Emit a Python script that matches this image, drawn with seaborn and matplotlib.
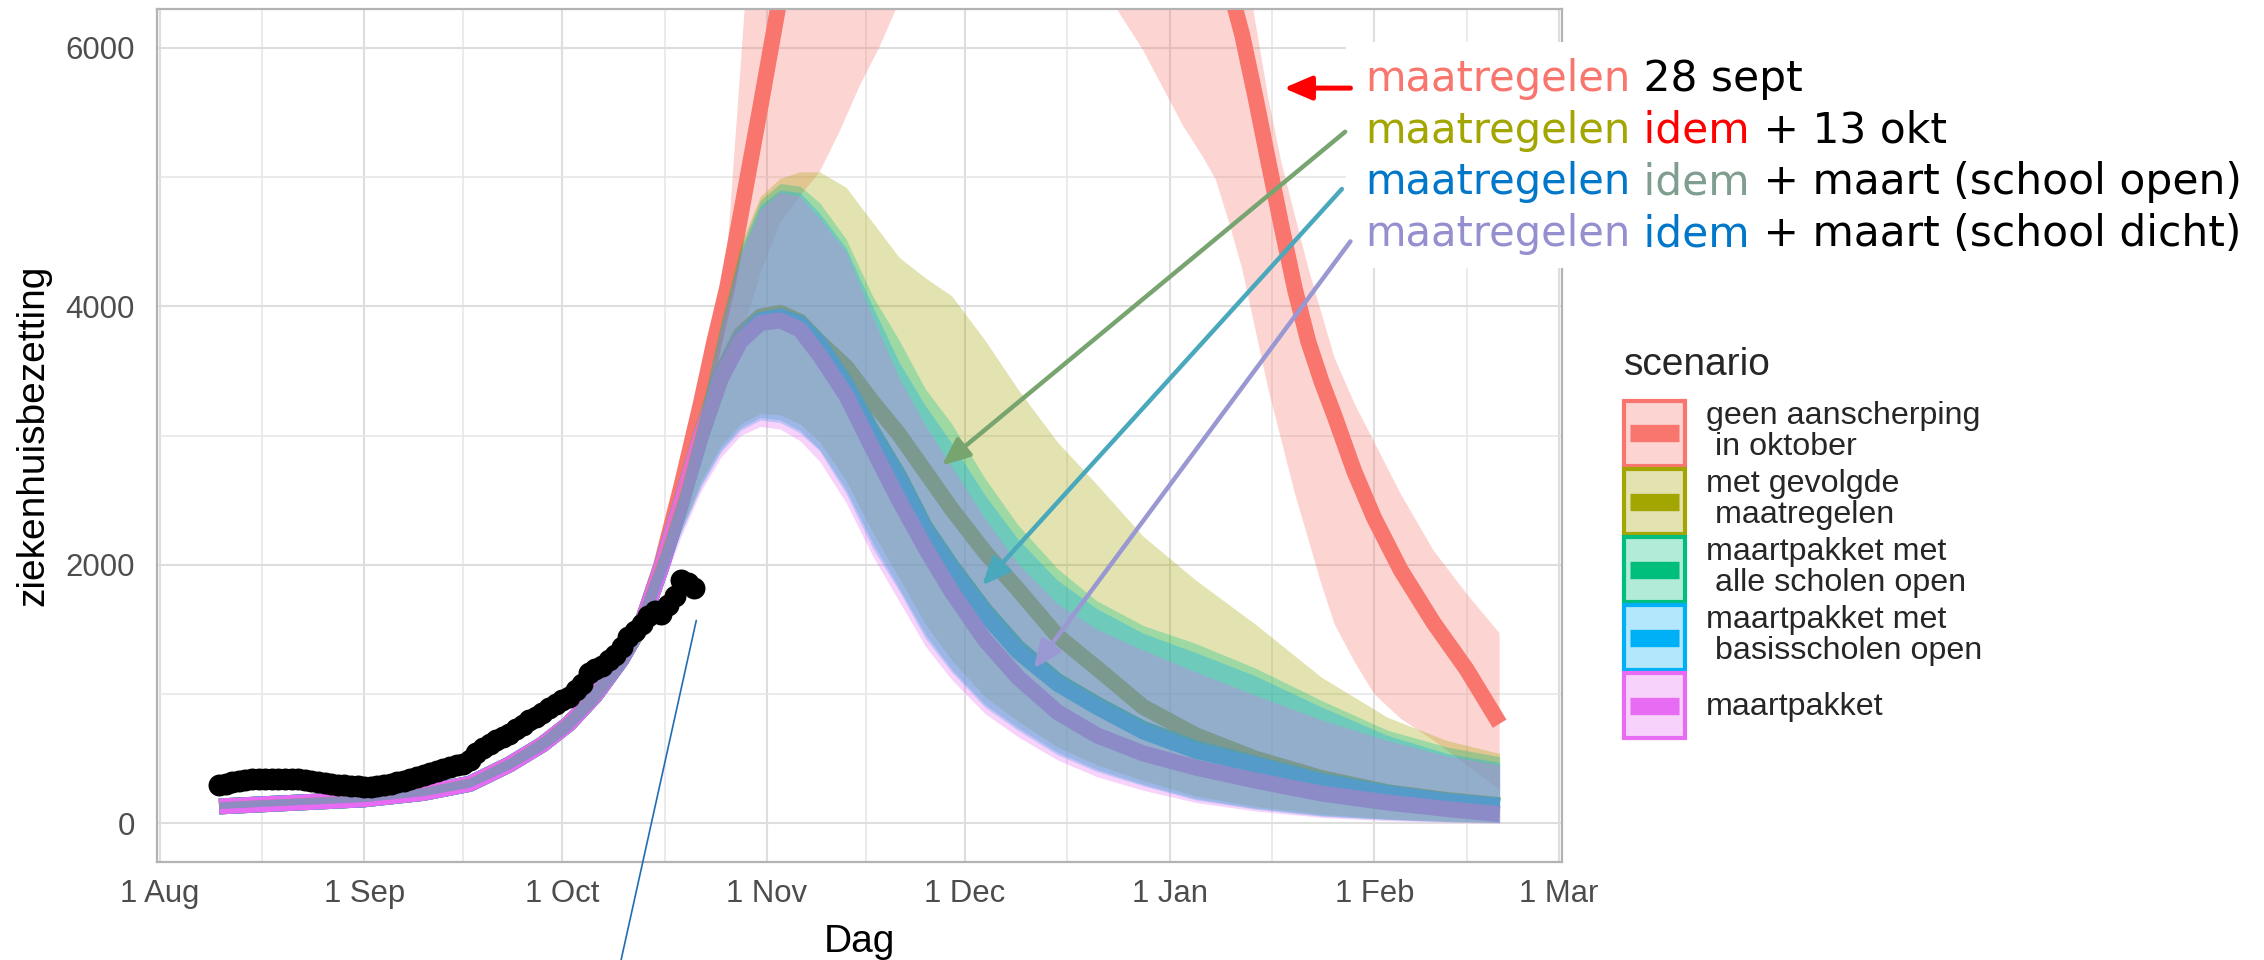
import numpy as np
import pandas as pd
import seaborn as sns
import matplotlib.pyplot as plt
import matplotlib.dates as mdates
from matplotlib.colors import to_rgba
from matplotlib.patches import Rectangle
from matplotlib.lines import Line2D
from matplotlib.legend_handler import HandlerBase

sns.set_theme(style="white")
plt.rcParams["font.family"] = ["Liberation Sans", "DejaVu Sans"]

start = pd.Timestamp("2020-08-01")

scenarios = ["geen aanscherping\n in oktober", "met gevolgde\n maatregelen",
             "maartpakket met\n alle scholen open", "maartpakket met\n basisscholen open",
             "maartpakket"]
colors = ["#F8766D", "#A3A500", "#00BF7D", "#00B0F6", "#E76BF3"]

# days since 1 Aug 2020
model_days = [9, 19, 31, 40, 47, 53, 58, 62, 66, 70, 73, 76, 79, 82, 85, 88, 91, 94, 97, 100,
              104, 108, 112, 116, 120, 125, 130, 136, 142, 149, 157, 166, 176, 186, 195, 203]
red_days = [9, 19, 31, 40, 47, 53, 58, 62, 66, 70, 73, 76, 79, 82, 84, 86, 88, 91, 94, 97,
            100, 103, 106, 109, 112, 120, 130, 140, 145, 149, 152, 155, 158, 160, 162, 164, 166, 168, 170, 172,
            174, 176, 178, 181, 184, 188, 193, 198, 203]

early_line = [130, 155, 185, 235, 305, 455, 610, 770, 990, 1270, 1540]
early_lo = [115, 140, 168, 215, 280, 420, 565, 715, 920, 1180, 1420]
early_hi = [165, 190, 220, 275, 350, 505, 670, 840, 1080, 1380, 1690]

red_line = early_line + [2000, 2600, 3250, 3720, 4150, 4700, 5540, 6400, 7200,
                         8000, 8700, 9300, 9800, 10200, 11000, 11200, 10400, 9700, 9000,
                         8450, 7900, 7250, 6850, 6480, 6100, 5620, 5110, 4610, 4130,
                         3730, 3420, 3150, 2720, 2360, 1960, 1550, 1190, 770]
red_lo = early_lo + [1850, 2300, 2800, 3100, 3400, 3750, 4250, 4650, 4850,
                     5040, 5350, 5700, 6000, 6350, 7000, 7300, 6800, 6300, 5980,
                     5690, 5400, 5160, 4980, 4650, 4290, 3820, 3350, 2950, 2550,
                     2200, 1850, 1540, 1250, 1000, 810, 640, 450, 257]
red_hi = early_hi + [2150, 2700, 3400, 3800, 4430, 5850, 8000, 10000, 11500,
                     12500, 13000, 13300, 13500, 13600, 13500, 13000, 12000, 11200, 10500,
                     10000, 9400, 8700, 8200, 7500, 6800, 6200, 5600, 5100, 4700,
                     4300, 3950, 3600, 3250, 2950, 2550, 2110, 1776, 1470]

olive_line = early_line + [1980, 2480, 3010, 3470, 3780, 3920, 3950, 3880, 3720, 3530, 3260, 3010, 2720,
                           2430, 2100, 1810, 1450, 1200, 900, 680, 500, 350, 240, 180, 140]
olive_lo = early_lo + [1870, 2280, 2650, 2920, 3090, 3170, 3160, 3090, 2950, 2650, 2250, 1900, 1540,
                       1260, 980, 790, 590, 450, 330, 210, 130, 70, 35, 16, 8]
olive_hi = early_hi + [2110, 2600, 3190, 3880, 4480, 4850, 4990, 5040, 5040, 4920, 4650, 4380, 4220,
                       4080, 3740, 3360, 2950, 2620, 2220, 1880, 1540, 1130, 820, 640, 540]

green_line = early_line + [1980, 2480, 3000, 3450, 3750, 3890, 3920, 3870, 3710, 3400, 3030, 2690, 2290,
                           1990, 1650, 1360, 1100, 920, 730, 580, 460, 330, 235, 172, 135]
green_lo = early_lo + [1860, 2260, 2620, 2890, 3060, 3140, 3120, 3040, 2890, 2580, 2170, 1820, 1460,
                       1190, 920, 740, 550, 415, 300, 190, 115, 60, 30, 14, 6]
green_hi = early_hi + [2100, 2580, 3170, 3860, 4450, 4820, 4950, 4930, 4800, 4520, 4080, 3740, 3360,
                       3090, 2670, 2310, 1970, 1720, 1530, 1390, 1200, 950, 720, 590, 515]

blue_line = early_line + [1980, 2480, 3000, 3450, 3750, 3890, 3920, 3860, 3700, 3380, 3000, 2660, 2260,
                          1960, 1620, 1330, 1080, 900, 710, 560, 450, 320, 230, 170, 133]
blue_lo = early_lo + [1850, 2250, 2600, 2870, 3040, 3120, 3100, 3020, 2880, 2550, 2130, 1800, 1430,
                      1170, 900, 720, 530, 400, 290, 180, 110, 55, 28, 12, 5]
blue_hi = early_hi + [2090, 2570, 3160, 3840, 4420, 4780, 4900, 4880, 4720, 4450, 4000, 3570, 3230,
                      2940, 2540, 2200, 1880, 1660, 1470, 1320, 1140, 900, 680, 540, 470]

pink_line = early_line + [1980, 2480, 3000, 3440, 3730, 3870, 3890, 3820, 3620, 3310, 2900, 2500, 2130,
                          1790, 1420, 1130, 860, 680, 540, 430, 330, 230, 160, 110, 70]
pink_lo = early_lo + [1820, 2220, 2570, 2830, 3000, 3070, 3050, 2960, 2800, 2480, 2070, 1720, 1370,
                      1110, 850, 670, 490, 360, 255, 160, 95, 45, 20, 8, 0]
pink_hi = early_hi + [2080, 2560, 3150, 3820, 4400, 4750, 4880, 4850, 4680, 4420, 3920, 3450, 3080,
                      2760, 2360, 2010, 1700, 1500, 1340, 1170, 990, 800, 640, 520, 450]

# observed occupancy, daily from 10 Aug
obs_values = [294, 305, 318, 330, 335, 340, 342, 345, 345, 344, 343, 340, 340, 336, 330, 320, 312, 305,
              298, 294, 290, 285, 281, 283, 288, 294, 305, 318, 330, 345, 360, 375, 390, 405, 420, 436,
              450, 461, 490, 540, 580, 616, 645, 670, 693, 730, 760, 795, 825, 850, 890, 925, 950, 975,
              1030, 1080, 1160, 1190, 1220, 1265, 1305, 1363, 1440, 1490, 1545, 1600, 1640, 1620, 1690,
              1760, 1880, 1860, 1820]


def to_dates(days):
    return start + pd.to_timedelta(days, unit="D")


def dnum(day):
    return mdates.date2num(start + pd.Timedelta(days=day))


series = [
    (scenarios[0], red_days, red_line, red_lo, red_hi),
    (scenarios[1], model_days, olive_line, olive_lo, olive_hi),
    (scenarios[2], model_days, green_line, green_lo, green_hi),
    (scenarios[3], model_days, blue_line, blue_lo, blue_hi),
    (scenarios[4], model_days, pink_line, pink_lo, pink_hi),
]

df = pd.concat([pd.DataFrame({"Dag": to_dates(d), "bezetting": v, "scenario": s})
                for s, d, v, lo, hi in series])
obs = pd.DataFrame({"Dag": pd.date_range("2020-08-10", periods=len(obs_values)),
                    "bezetting": obs_values})

fig = plt.figure(figsize=(22.64, 9.6), dpi=100)
ax = fig.add_axes([0.06935, 0.10208, 0.62058, 0.88854])
ax.set_facecolor("white")
ax.set_axisbelow(True)

# lines first, ribbons on top (as in the original)
sns.lineplot(data=df, x="Dag", y="bezetting", hue="scenario", hue_order=scenarios,
             palette=colors, linewidth=11.5, legend=False, errorbar=None,
             solid_capstyle="butt", ax=ax)

for (s, d, v, lo, hi), c in zip(series, colors):
    ax.fill_between(to_dates(d), lo, hi, color=c, alpha=0.3, linewidth=0, zorder=2.5)

sns.scatterplot(data=obs, x="Dag", y="bezetting", color="black", s=250, linewidth=0,
                zorder=3, legend=False, ax=ax)

# axes
ax.set_xlim(start - pd.Timedelta(days=0.4), pd.Timestamp("2021-03-01") + pd.Timedelta(days=0.45))
ax.set_ylim(-300, 6300)
months = pd.date_range("2020-08-01", "2021-03-01", freq="MS")
ax.set_xticks(months)
ax.xaxis.set_major_formatter(mdates.DateFormatter("%-d %b"))
mids = months[:-1] + (months[1:] - months[:-1]) / 2
ax.set_xticks(mids, minor=True)
ax.set_yticks([0, 2000, 4000, 6000])
ax.set_yticks([1000, 3000, 5000], minor=True)
ax.grid(which="major", color="#DEDEDE", linewidth=1.5)
ax.grid(which="minor", color="#E6E6E6", linewidth=1.1)
ax.tick_params(which="minor", length=0)
ax.tick_params(which="major", length=9, width=1.4, color="#B3B3B3",
               labelsize=22.4, labelcolor="#4D4D4D")
ax.tick_params(axis="x", pad=3)
ax.tick_params(axis="y", pad=7)
for sp in ax.spines.values():
    sp.set_color("#B3B3B3")
    sp.set_linewidth(1.6)
ax.set_xlabel("Dag", fontsize=28, color="black", labelpad=11)
ax.set_ylabel("ziekenhuisbezetting", fontsize=28, color="black", labelpad=10)

# thin pointer line below the observed data
ax.annotate("", xy=(dnum(81.3), 1569), xytext=(dnum(69.9), -1059),
            arrowprops=dict(arrowstyle="-", color="#1F6DB3", lw=1.2, shrinkA=0, shrinkB=0),
            annotation_clip=False, zorder=4)

# white box behind the annotation text
ax.add_patch(Rectangle((1346 / 2264, 1 - 268 / 960), 1 - 1346 / 2264, 226 / 960,
                       transform=fig.transFigure, facecolor="white", edgecolor="none",
                       zorder=5, clip_on=False))


def arrow(tail, tip, color, lw):
    ax.annotate("", xy=(dnum(tip[0]), tip[1]), xytext=(dnum(tail[0]), tail[1]),
                arrowprops=dict(arrowstyle="-|>,head_length=1.4,head_width=0.6", color=color,
                                lw=lw, shrinkA=0, shrinkB=0),
                annotation_clip=False, zorder=6)


arrow((180.4, 5688), (170.3, 5688), "#FF0000", 3.6)
arrow((179.6, 5350), (118.5, 2768), "#78A46F", 3.2)
arrow((179.1, 4907), (124.6, 1840), "#4AA8BC", 3.2)
arrow((180.4, 4502), (132.4, 1196), "#9A98D2", 3.2)

text_lines = [
    [("maatregelen", "#F8766D"), (" 28 sept", "black")],
    [("maatregelen", "#A3A500"), (" idem", "#FF0000"), (" + 13 okt", "black")],
    [("maatregelen", "#0077C8"), (" idem", "#7F9E90"), (" + maart (school open)", "black")],
    [("maatregelen", "#9490D0"), (" idem", "#0077C8"), (" + maart (school dicht)", "black")],
]
for i, parts in enumerate(text_lines):
    y = 1 - (100 + 51.7 * i) / 960
    prev = None
    for txt, col in parts:
        if prev is None:
            prev = ax.text(1365 / 2264, y, txt, color=col, fontsize=30, family="DejaVu Sans",
                           transform=fig.transFigure, va="bottom", ha="left", zorder=7, clip_on=False)
        else:
            prev = ax.annotate(txt, xy=(1, 0), xycoords=prev, color=col, fontsize=30.5,
                               family="DejaVu Sans", va="bottom", ha="left", zorder=7)


class RibbonKey(HandlerBase):
    # legend key: translucent box with coloured border and a thick line across the middle
    def create_artists(self, legend, orig_handle, xdescent, ydescent, width, height, fontsize, trans):
        c = orig_handle.get_color()
        box = Rectangle((-xdescent, -ydescent), width, height, facecolor=to_rgba(c, 0.3),
                        edgecolor=c, linewidth=3, transform=trans)
        pad = 0.1 * width
        y = -ydescent + height / 2
        line = Line2D([-xdescent + pad, -xdescent + width - pad], [y, y], color=c,
                      linewidth=12.5, solid_capstyle="butt", transform=trans)
        return [box, line]


handles = [Line2D([], [], color=c) for c in colors]
fig.text(1624 / 2264, 1 - 365 / 960, "scenario", fontsize=28, va="center", ha="left")
leg = fig.legend(handles, scenarios, handler_map={Line2D: RibbonKey()},
                 loc="upper left", bbox_to_anchor=(1624 / 2264, 1 - 401 / 960),
                 frameon=False, fontsize=23.2, handlelength=1.88,
                 handleheight=2.72, labelspacing=0.1, handletextpad=0.65, borderpad=0,
                 borderaxespad=0)
for t in leg.get_texts():
    t.set_linespacing(1.05)

fig.savefig("out.png", dpi=100, facecolor="white")
